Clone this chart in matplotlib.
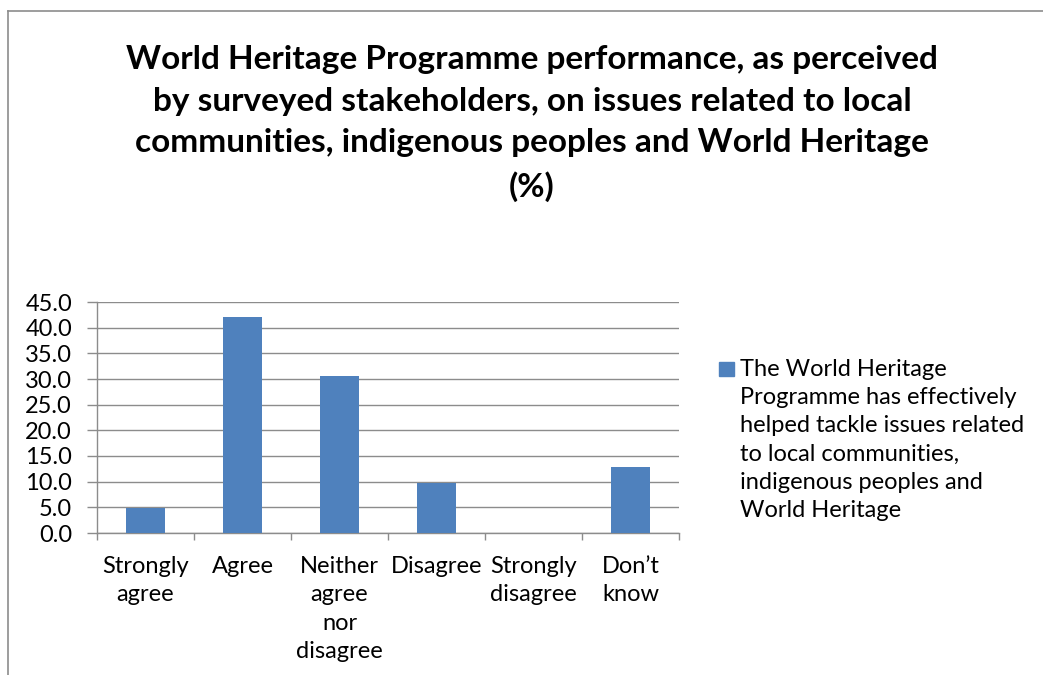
import matplotlib.pyplot as plt
from matplotlib.lines import Line2D
from matplotlib.patches import Rectangle

plt.rcParams['font.family'] = ['Lato', 'DejaVu Sans']

# Data
categories = ["Strongly\nagree", "Agree", "Neither\nagree\nnor\ndisagree",
              "Disagree", "Strongly\ndisagree", "Don\u2019t\nknow"]
values = [4.8, 42.0, 30.6, 9.7, 0.0, 12.8]
series_label = ("The World Heritage\nProgramme has effectively\n"
                "helped tackle issues related\nto local communities,\n"
                "indigenous peoples and\nWorld Heritage")
title = ("World Heritage Programme performance, as perceived\n"
         "by surveyed stakeholders, on issues related to local\n"
         "communities, indigenous peoples and World Heritage\n(%)")
yticks = [0, 5, 10, 15, 20, 25, 30, 35, 40, 45]

bar_color = "#4F81BD"
grid_color = "#8C8C8C"
fs = 17

fig = plt.figure(figsize=(10.43, 6.75), dpi=100)
W, H = 1043, 675
ax = fig.add_axes([97 / W, 1 - 533 / H, (679 - 97) / W, (533 - 302) / H])

x = range(len(categories))
ax.bar(x, values, width=0.4, color=bar_color, zorder=3)

ax.set_xlim(-0.5, len(categories) - 0.5)
ax.set_ylim(0, 45)
ax.set_yticks(yticks)
ax.set_yticklabels([f"{v:.1f}" for v in yticks], fontsize=fs)
ax.yaxis.grid(True, color=grid_color, linewidth=1, zorder=0)

# category labels centred, boundary ticks as minor ticks
ax.set_xticks(list(x))
ax.set_xticklabels(categories, fontsize=fs, linespacing=1.43)
ax.set_xticks([i - 0.5 for i in range(len(categories) + 1)], minor=True)
ax.tick_params(axis='x', which='major', length=0, pad=16.5)
ax.tick_params(axis='x', which='minor', length=5, color=grid_color, width=1)
ax.tick_params(axis='y', length=7, color=grid_color, width=1, pad=11)

for s in ["top", "right"]:
    ax.spines[s].set_visible(False)
for s in ["left", "bottom"]:
    ax.spines[s].set_color(grid_color)
    ax.spines[s].set_linewidth(1)

fig.text(532 / W, 1 - 45 / H, title, ha="center", va="top", fontsize=24,
         fontweight="bold", linespacing=1.53)

# legend
fig.add_artist(Rectangle((719 / W, 1 - 376 / H), 15 / W, 14 / H,
                         transform=fig.transFigure, color=bar_color))
fig.text(740 / W, 1 - 359 / H, series_label, ha="left", va="top",
         fontsize=fs, linespacing=1.42)

# chart area border
fig.add_artist(Line2D([8 / W, 8 / W], [0, 1 - 11 / H], color="#8C8C8C",
                      linewidth=1.2, transform=fig.transFigure))
fig.add_artist(Line2D([8 / W, 1], [1 - 11 / H, 1 - 11 / H], color="#8C8C8C",
                      linewidth=1.2, transform=fig.transFigure))

fig.savefig("out.png", dpi=100)
